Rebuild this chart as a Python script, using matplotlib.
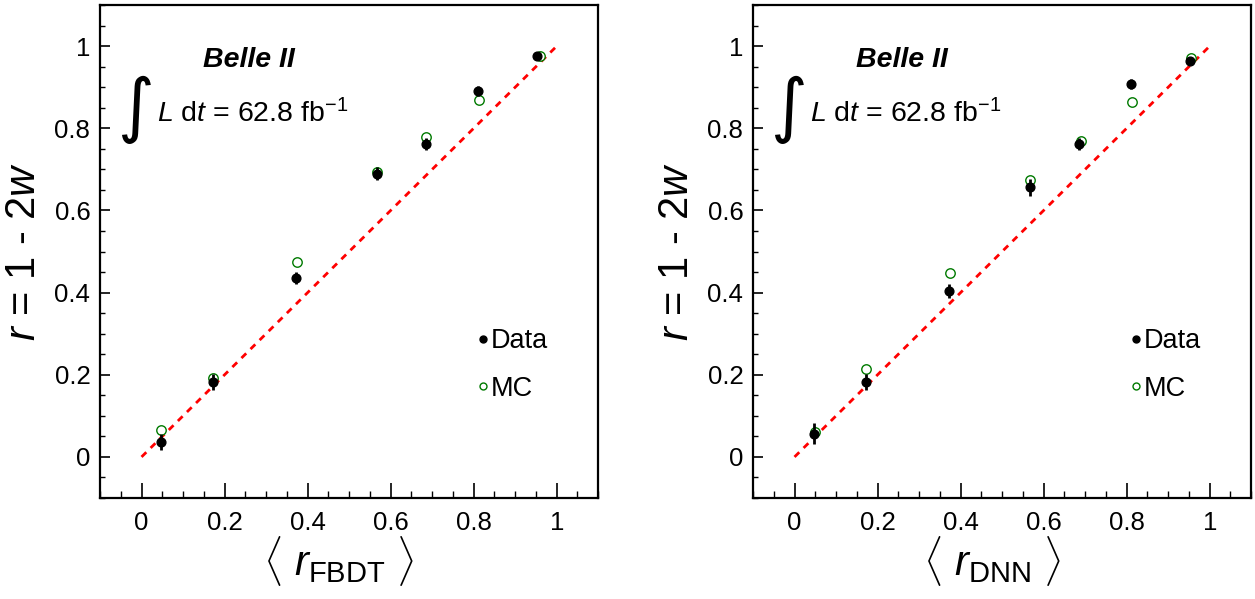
import numpy as np
import matplotlib
matplotlib.use("Agg")
import matplotlib.pyplot as plt
from matplotlib.lines import Line2D
from matplotlib.ticker import MultipleLocator

plt.rcParams['font.family'] = ['Liberation Sans', 'DejaVu Sans']
plt.rcParams['mathtext.fontset'] = 'custom'
plt.rcParams['mathtext.rm'] = 'Liberation Sans'
plt.rcParams['mathtext.it'] = 'Liberation Sans:italic'
plt.rcParams['mathtext.bf'] = 'Liberation Sans:bold'

# FBDT panel
fbdt_x = [0.046, 0.171, 0.373, 0.566, 0.686, 0.811, 0.953]
fbdt_data = [0.036, 0.183, 0.435, 0.689, 0.762, 0.891, 0.977]
fbdt_data_err = [0.020, 0.020, 0.015, 0.016, 0.015, 0.013, 0.005]
fbdt_mc_x = [0.046, 0.171, 0.375, 0.566, 0.686, 0.812, 0.959]
fbdt_mc = [0.065, 0.193, 0.474, 0.693, 0.778, 0.869, 0.977]
fbdt_mc_err = [0.008, 0.008, 0.007, 0.007, 0.006, 0.005, 0.003]

# DNN panel
dnn_x = [0.047, 0.172, 0.373, 0.566, 0.686, 0.810, 0.953]
dnn_data = [0.057, 0.182, 0.403, 0.656, 0.762, 0.908, 0.964]
dnn_data_err = [0.025, 0.020, 0.017, 0.020, 0.015, 0.012, 0.008]
dnn_mc_x = [0.050, 0.173, 0.374, 0.566, 0.689, 0.814, 0.956]
dnn_mc = [0.061, 0.214, 0.448, 0.675, 0.770, 0.865, 0.972]
dnn_mc_err = [0.012, 0.010, 0.008, 0.008, 0.006, 0.005, 0.003]

panels = [
    ("FBDT", fbdt_x, fbdt_data, fbdt_data_err, fbdt_mc_x, fbdt_mc, fbdt_mc_err),
    ("DNN", dnn_x, dnn_data, dnn_data_err, dnn_mc_x, dnn_mc, dnn_mc_err),
]

GREEN = '#007a00'

fig = plt.figure(figsize=(12.55, 5.99), dpi=100)
boxes = [[0.0797, 0.1686, 0.397, 0.823], [0.600, 0.1686, 0.397, 0.823]]

for box, (name, x, d, de, mx, m, me) in zip(boxes, panels):
    ax = fig.add_axes(box)
    ax.set_xlim(-0.1, 1.1)
    ax.set_ylim(-0.1, 1.1)

    # diagonal r = <r>
    ax.plot([0, 1], [0, 1], color='red', ls=(0, (2.4, 2.2)), lw=2.0, zorder=1)

    ax.errorbar(mx, m, yerr=me, fmt='o', ms=6.8, mfc='white', mec=GREEN,
                mew=1.0, ecolor=GREEN, elinewidth=1.0, capsize=0, zorder=2)
    ax.errorbar(x, d, yerr=de, fmt='o', ms=6.3, color='black',
                ecolor='black', elinewidth=2.0, capsize=0, zorder=3)

    ax.xaxis.set_major_locator(MultipleLocator(0.2))
    ax.xaxis.set_minor_locator(MultipleLocator(0.05))
    ax.yaxis.set_major_locator(MultipleLocator(0.2))
    ax.yaxis.set_minor_locator(MultipleLocator(0.05))
    ax.xaxis.set_major_formatter(plt.FuncFormatter(lambda v, p: f"{v:g}"))
    ax.yaxis.set_major_formatter(plt.FuncFormatter(lambda v, p: f"{v:g}"))
    ax.tick_params(axis='x', which='major', direction='in', length=10.5, width=1.2,
                   labelsize=18.5, pad=9)
    ax.tick_params(axis='x', which='minor', direction='in', length=5, width=1.0)
    ax.tick_params(axis='y', which='major', direction='in', length=7, width=1.2,
                   labelsize=18.5, pad=7)
    ax.tick_params(axis='y', which='minor', direction='in', length=3.6, width=1.0)
    for s in ax.spines.values():
        s.set_linewidth(1.6)

    ax.set_ylabel(r'$r$ = 1 - 2$w$', fontsize=30)
    ax.yaxis.set_label_coords(-0.112, 0.5)
    ax.set_xlabel(r'$\langle\ r_{\mathrm{' + name + r'}}\ \rangle$', fontsize=30)
    ax.xaxis.set_label_coords(0.48, -0.072)

    ax.text(0.148, 0.95, 'Belle II', fontsize=20.5, fontweight='bold',
            fontstyle='italic', ha='left', va='baseline')
    ax.text(-0.017, 0.845, r'$\int$', fontsize=36, ha='center', va='center',
            math_fontfamily='dejavusans')
    ax.text(0.037, 0.814, r'$L$ d$t$ = 62.8 fb$^{\mathregular{-1}}$', fontsize=20.5,
            ha='left', va='baseline')

    handles = [
        Line2D([], [], ls='none', marker='o', ms=5, color='black'),
        Line2D([], [], ls='none', marker='o', ms=5, mfc='white', mec=GREEN, mew=1.0),
    ]
    ax.legend(handles, ['Data', 'MC'], loc='center left',
              bbox_to_anchor=(0.757, 0.27), frameon=False, fontsize=19.5,
              handlelength=0.4, handletextpad=0.1, labelspacing=0.8,
              borderpad=0, borderaxespad=0)

fig.savefig('out.png', dpi=100)
